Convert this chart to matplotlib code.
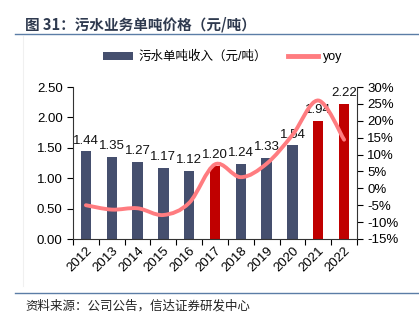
import matplotlib
matplotlib.use("Agg")
import matplotlib.pyplot as plt
from matplotlib.path import Path
from matplotlib.patches import PathPatch, Patch
from matplotlib.lines import Line2D
from matplotlib.ticker import FuncFormatter, MultipleLocator, FixedLocator
import numpy as np

plt.rcParams['font.family'] = ['Liberation Sans', 'Noto Sans CJK SC', 'DejaVu Sans']

years = ['2012', '2013', '2014', '2015', '2016', '2017', '2018', '2019', '2020', '2021', '2022']
price = [1.44, 1.35, 1.27, 1.17, 1.12, 1.20, 1.24, 1.33, 1.54, 1.94, 2.22]
yoy = [-5.0, -6.3, -5.9, -7.9, -4.3, 7.1, 3.3, 7.3, 15.8, 26.0, 14.4]
highlight = ['2017', '2021', '2022']

navy = '#454f6e'
red = '#c00000'
pink = '#ff7c80'
FS = 9.5

fig = plt.figure(figsize=(4.19, 3.21), dpi=100)
W, H = 419, 321
ax = fig.add_axes([73 / W, 1 - 239 / H, 284 / W, 152 / H])
x = np.arange(len(years))
colors = [red if y in highlight else navy for y in years]
ax.bar(x, price, width=0.4, color=colors, zorder=2)
for xi, v in zip(x, price):
    ax.text(xi, v + 0.08, f'{v:.2f}', ha='center', va='bottom', fontsize=FS, color='#111111', zorder=5)

ax.set_xlim(-0.5, len(years) - 0.5)
ax.set_ylim(0, 2.5)
ax.yaxis.set_major_locator(MultipleLocator(0.5))
ax.yaxis.set_major_formatter(FuncFormatter(lambda v, p: f'{v:.2f}'))
ax.set_xticks(x)
ax.set_xticklabels(years, rotation=45, ha='right', rotation_mode='anchor', fontsize=FS)
ax.tick_params(axis='x', which='major', length=0, pad=4)
ax.xaxis.set_minor_locator(FixedLocator(np.arange(-0.5, len(years), 1.0)))
ax.tick_params(axis='x', which='minor', length=4, width=0.8, direction='out')
ax.tick_params(axis='y', labelsize=FS, length=4, width=0.8, direction='out')
for s in ['top', 'right']:
    ax.spines[s].set_visible(False)
for s in ['left', 'bottom']:
    ax.spines[s].set_color('#333333')
    ax.spines[s].set_linewidth(0.8)

ax2 = ax.twinx()
ax2.set_ylim(-15, 30)
ax2.yaxis.set_major_locator(MultipleLocator(5))
ax2.yaxis.set_major_formatter(FuncFormatter(lambda v, p: f'{v:.0f}%'))
ax2.tick_params(axis='y', labelsize=FS, length=4, width=0.8, direction='out')
for s in ['top', 'left', 'bottom']:
    ax2.spines[s].set_visible(False)
ax2.spines['right'].set_color('#333333')
ax2.spines['right'].set_linewidth(0.8)

# smooth curve through the yoy points (Catmull-Rom -> cubic Bezier)
pts = np.column_stack([x.astype(float), np.array(yoy)])
verts = [tuple(pts[0])]
codes = [Path.MOVETO]
n = len(pts)
for i in range(n - 1):
    p0 = pts[i - 1] if i > 0 else pts[i]
    p1 = pts[i]
    p2 = pts[i + 1]
    p3 = pts[i + 2] if i + 2 < n else pts[i + 1]
    c1 = p1 + (p2 - p0) / 6.0
    c2 = p2 - (p3 - p1) / 6.0
    verts += [tuple(c1), tuple(c2), tuple(p2)]
    codes += [Path.CURVE4] * 3
ax2.add_patch(PathPatch(Path(verts, codes), facecolor='none', edgecolor=pink, lw=2.8, zorder=4, capstyle='round'))

handles = [Patch(facecolor=navy, edgecolor='none'), Line2D([0], [0], color=pink, lw=3.5)]
fig.legend(handles, ['污水单吨收入（元/吨）', 'yoy'], loc='center left', bbox_to_anchor=(92 / W, 1 - 57 / H),
           ncol=2, frameon=False, fontsize=9, handlelength=2.4, handleheight=0.55,
           columnspacing=1.7, handletextpad=0.4)

# title, rules and faint frame
fig.text(25 / W, 1 - 24 / H, '图 31：污水业务单吨价格（元/吨）', fontsize=10.5, fontweight='bold',
         color='#2f3a4f', va='center', ha='left', family=['Noto Sans CJK SC', 'DejaVu Sans'])
fig.add_artist(Line2D([23 / W, 23 / W], [1 - 36 / H, 1 - 286 / H], color='#f0f0f0', lw=0.8))
fig.add_artist(Line2D([15 / W, 1.0], [1 - 34 / H, 1 - 34 / H], color='#5b7da6', lw=1.0))
fig.add_artist(Line2D([15 / W, 1.0], [1 - 293 / H, 1 - 293 / H], color='#5b7da6', lw=1.0))
fig.text(25 / W, 1 - 306 / H, '资料来源：公司公告，信达证券研发中心', fontsize=9, color='#222222',
         va='center', ha='left', family=['Noto Sans CJK SC', 'DejaVu Sans'], style='italic')

fig.savefig('out.png', dpi=100)
